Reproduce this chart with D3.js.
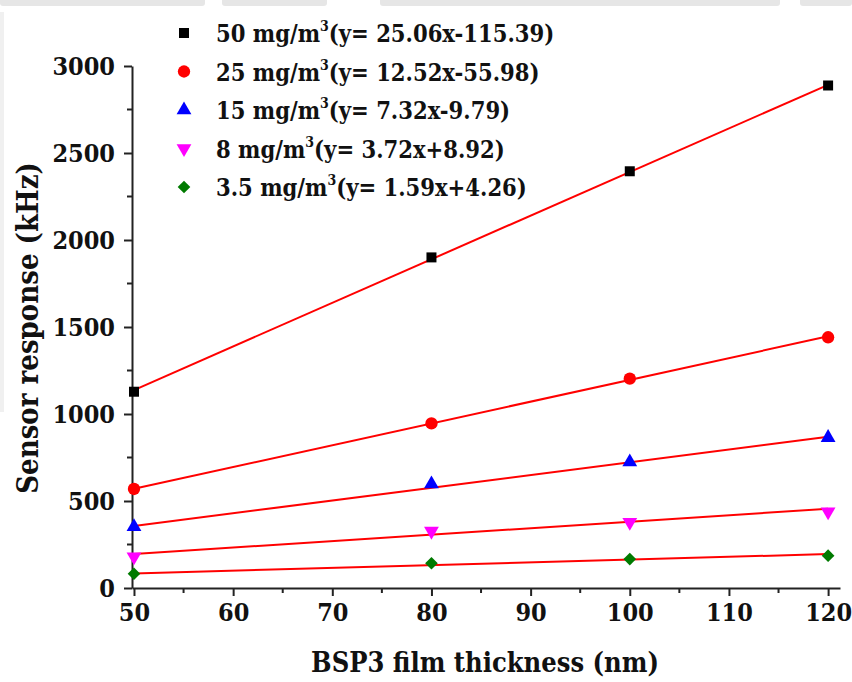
<!DOCTYPE html>
<html>
<head>
<meta charset="utf-8">
<script src="https://cdn.jsdelivr.net/npm/d3@7"></script>
<style>
  body { margin: 0; background: #fff; }
  svg { display: block; }
  text { font-family: "DejaVu Serif", serif; font-weight: bold; font-stretch: condensed; fill: #111; }
</style>
</head>
<body>
<div id="chart"></div>
<script>
// film thickness (nm)
const thickness = [50, 80, 100, 120];
// sensor response (kHz) per concentration
const conc = ["50", "25", "15", "8", "3.5"];
const resp50 = [1128, 1900, 2395, 2888];
const resp25 = [569, 946, 1203, 1441];
const resp15 = [352, 598, 724, 864];
const resp8 = [180, 327, 378, 438];
const resp35 = [82, 142, 166, 186];
// fitted lines from the legend
const slopes = [25.06, 12.52, 7.32, 3.72, 1.59];
const intercepts = [-115.39, -55.98, -9.79, 8.92, 4.26];
const equations = ["(y= 25.06x-115.39)", "(y= 12.52x-55.98)", "(y= 7.32x-9.79)", "(y= 3.72x+8.92)", "(y= 1.59x+4.26)"];
const xTicks = [50, 60, 70, 80, 90, 100, 110, 120];
const yTicks = [0, 500, 1000, 1500, 2000, 2500, 3000];

const series = [resp50, resp25, resp15, resp8, resp35];
const colors = ["#000000", "#ff0000", "#0000ff", "#ff00ff", "#007a00"];
const shapes = [d3.symbolSquare, d3.symbolCircle, d3.symbolTriangle, d3.symbolTriangle, d3.symbolSquare];
const sizes = [100, 120, 95, 95, 80];
const rotate = [0, 0, 0, 180, 45];

const W = 852, H = 682;
const svg = d3.select("#chart").append("svg").attr("width", W).attr("height", H);

// faint scan artefacts along the top/left edges
const band = svg.append("g").attr("fill", "#e6e6e6");
[[0, 205], [222, 327], [380, 780], [800, 852]].forEach(s => {
  band.append("rect").attr("x", s[0]).attr("y", -3).attr("width", s[1] - s[0]).attr("height", 9).attr("rx", 3);
});
svg.append("rect").attr("x", 0).attr("y", 12).attr("width", 4).attr("height", 400).attr("fill", "#f0f0f0");

const x = d3.scaleLinear().domain([49.8, 121.2]).range([132, 840]);
const y = d3.scaleLinear().domain([0, 3000]).range([588, 66]);

// axes
const xAxis = svg.append("g")
  .attr("transform", "translate(0," + y(0) + ")")
  .call(d3.axisBottom(x).tickValues(xTicks).tickSize(8).tickSizeOuter(0).tickPadding(7));
xAxis.append("g").selectAll("line")
  .data(d3.range(55, 120, 10))
  .enter().append("line")
    .attr("x1", d => x(d)).attr("x2", d => x(d))
    .attr("y1", 0).attr("y2", 5);

const yAxis = svg.append("g")
  .attr("transform", "translate(" + x(49.8) + ",0)")
  .call(d3.axisLeft(y).tickValues(yTicks).tickFormat(d3.format("d")).tickSize(8).tickSizeOuter(0).tickPadding(9));
yAxis.append("g").selectAll("line")
  .data(d3.range(250, 3000, 500))
  .enter().append("line")
    .attr("y1", d => y(d)).attr("y2", d => y(d))
    .attr("x1", 0).attr("x2", -5);

[xAxis, yAxis].forEach(a => {
  a.selectAll("path, line").attr("stroke", "#222").attr("stroke-width", 2);
  a.selectAll("text").attr("font-family", null).attr("font-size", 25).style("fill", "#111");
});

// fit lines
series.forEach((s, i) => {
  svg.append("line")
    .attr("x1", x(50)).attr("y1", y(slopes[i] * 50 + intercepts[i]))
    .attr("x2", x(120)).attr("y2", y(slopes[i] * 120 + intercepts[i]))
    .attr("stroke", "#ff0000").attr("stroke-width", 2);
});

// points
series.forEach((s, i) => {
  svg.append("g").selectAll("path")
    .data(s)
    .enter().append("path")
      .attr("d", d3.symbol().type(shapes[i]).size(sizes[i]))
      .attr("transform", (d, j) => "translate(" + x(thickness[j]) + "," + y(d) + ") rotate(" + rotate[i] + ")")
      .attr("fill", colors[i]);
});

// legend
const lg = svg.append("g");
conc.forEach((c, i) => {
  const cy = 33 + i * 38.5;
  lg.append("path")
    .attr("d", d3.symbol().type(shapes[i]).size(sizes[i]))
    .attr("transform", "translate(184," + cy + ") rotate(" + rotate[i] + ")")
    .attr("fill", colors[i]);
  const t = lg.append("text").attr("x", 216).attr("y", cy + 9).attr("font-size", 23.5);
  t.append("tspan").text(c + " mg/m");
  t.append("tspan").attr("font-size", 14).attr("dy", -11).text("3");
  t.append("tspan").attr("dy", 11).text(equations[i]);
});

// axis titles
svg.append("text")
  .attr("x", 485).attr("y", 672)
  .attr("text-anchor", "middle").attr("font-size", 27)
  .text("BSP3 film thickness (nm)");
svg.append("text")
  .attr("transform", "translate(38,328) rotate(-90)")
  .attr("text-anchor", "middle").attr("font-size", 29)
  .text("Sensor response (kHz)");
</script>
</body>
</html>
